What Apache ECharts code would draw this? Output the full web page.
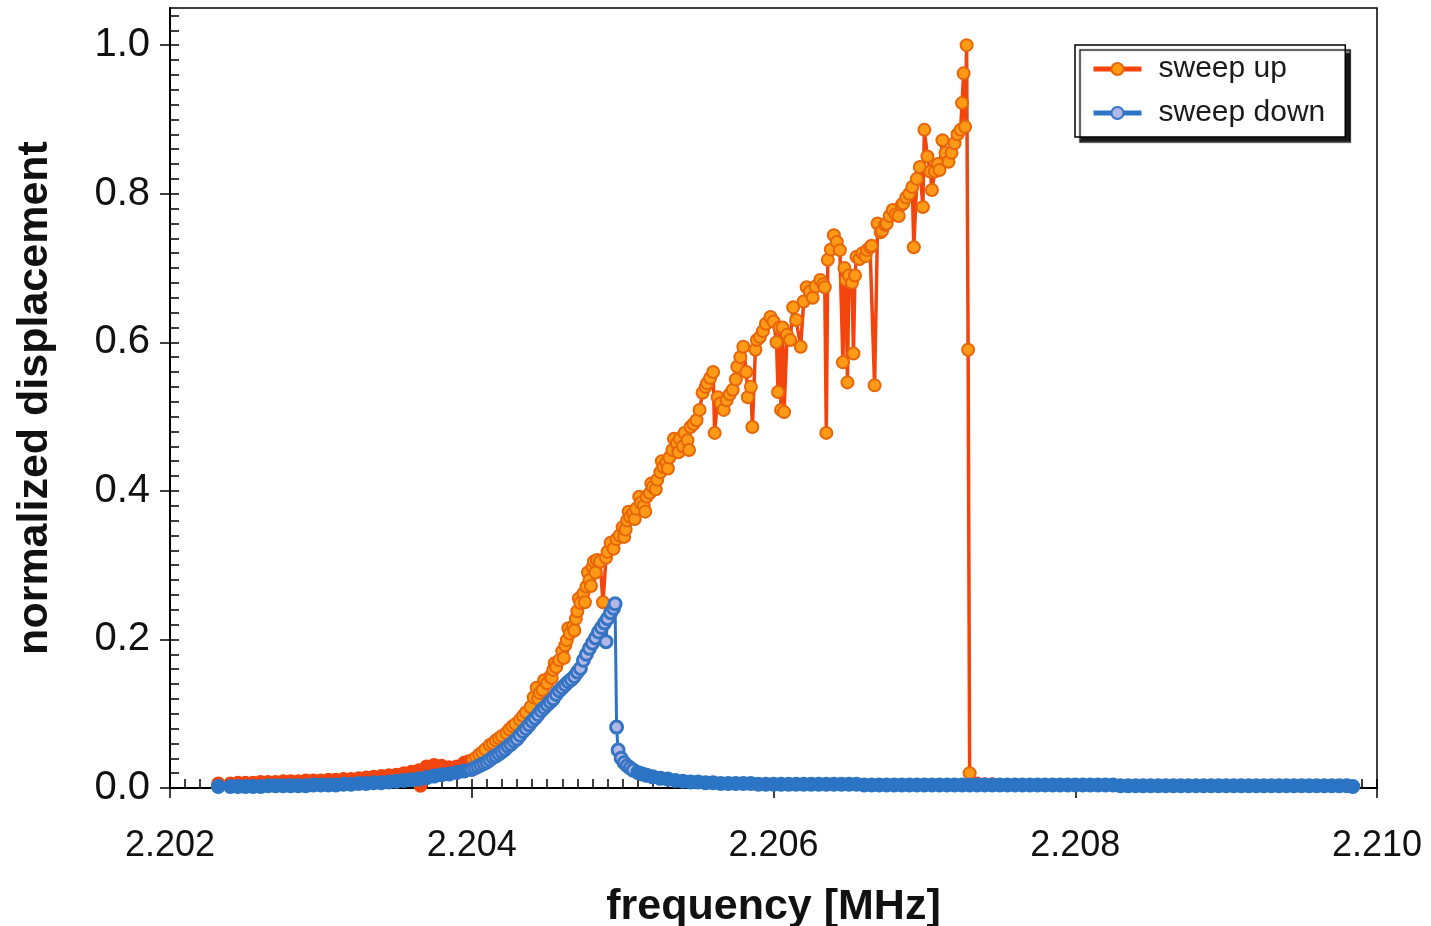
<!DOCTYPE html>
<html><head><meta charset="utf-8">
<script src="https://cdn.jsdelivr.net/npm/echarts@6/dist/echarts.min.js"></script>
<style>html,body{margin:0;padding:0;background:#fff}#c{width:1431px;height:926px}</style>
</head><body><div id="c"></div>
<script>
// ---- tick labels ----
const xTicks = [2.202, 2.204, 2.206, 2.208, 2.210];
const yTicks = [0.0, 0.2, 0.4, 0.6, 0.8, 1.0];
const xMinorStep = 0.0001;
const yMinorStep = 0.02;
const seriesNames = ['sweep up', 'sweep down'];

// ---- sweep up: [frequency MHz, normalized displacement] ----
const sweepUp = [
[2.20232,0.006],[2.20240,0.006],[2.20245,0.007],[2.20250,0.007],[2.20255,0.007],[2.20260,0.008],[2.20265,0.008],[2.20270,0.008],
[2.20275,0.009],[2.20280,0.009],[2.20285,0.009],[2.20290,0.010],[2.20295,0.010],[2.20300,0.010],[2.20305,0.011],[2.20310,0.011],
[2.20315,0.012],[2.20320,0.012],[2.20325,0.013],[2.20330,0.014],[2.20335,0.015],[2.20340,0.016],[2.20345,0.017],[2.20350,0.018],
[2.20355,0.020],[2.20360,0.022],[2.20365,0.024],[2.20366,0.003],[2.20370,0.029],[2.20375,0.031],[2.20380,0.030],[2.20385,0.028],
[2.20390,0.029],[2.20395,0.034],[2.20398,0.036],
[2.20401,0.038],[2.20403,0.041],[2.20405,0.045],[2.20407,0.048],[2.20409,0.052],[2.20412,0.058],[2.20414,0.060],[2.20416,0.064],
[2.20418,0.067],[2.20420,0.070],[2.20423,0.074],[2.20425,0.079],[2.20427,0.083],[2.20429,0.086],[2.20432,0.092],[2.20434,0.097],
[2.20436,0.102],[2.20439,0.109],[2.20441,0.122],[2.20443,0.135],[2.20444,0.120],[2.20445,0.128],[2.20447,0.132],[2.20448,0.145],
[2.20450,0.141],[2.20452,0.150],[2.20453,0.148],[2.20454,0.159],[2.20455,0.168],[2.20456,0.163],[2.20458,0.172],
[2.20460,0.184],[2.20461,0.175],[2.20462,0.192],[2.20463,0.199],[2.20464,0.215],[2.20465,0.208],[2.20467,0.217],[2.20468,0.212],
[2.20469,0.228],[2.20470,0.238],[2.20471,0.255],[2.20472,0.249],[2.20474,0.262],[2.20475,0.250],[2.20476,0.271],[2.20477,0.290],
[2.20478,0.280],[2.20479,0.272],[2.20480,0.297],[2.20481,0.305],[2.20482,0.290],[2.20483,0.307],[2.20485,0.305],[2.20487,0.250],
[2.20489,0.310],[2.20490,0.318],[2.20492,0.330],[2.20494,0.322],[2.20496,0.335],[2.20498,0.340],[2.20500,0.351],[2.20501,0.338],
[2.20502,0.348],[2.20503,0.360],[2.20504,0.372],[2.20505,0.365],[2.20507,0.370],[2.20508,0.362],[2.20509,0.376],[2.20511,0.392],
[2.20512,0.384],[2.20514,0.380],[2.20515,0.372],[2.20516,0.392],[2.20518,0.397],[2.20519,0.410],[2.20520,0.405],[2.20522,0.402],
[2.20523,0.415],[2.20525,0.425],[2.20526,0.440],[2.20527,0.432],[2.20529,0.438],[2.20530,0.430],[2.20531,0.445],[2.20533,0.455],
[2.20534,0.470],[2.20536,0.464],[2.20537,0.452],[2.20538,0.470],[2.20540,0.460],[2.20541,0.478],[2.20543,0.468],[2.20544,0.455],
[2.20545,0.486],[2.20547,0.490],
[2.20549,0.495],[2.20551,0.509],[2.20553,0.532],[2.20555,0.540],[2.20556,0.545],[2.20558,0.552],[2.20560,0.560],[2.20561,0.478],
[2.20563,0.526],[2.20565,0.518],[2.20567,0.509],[2.20569,0.522],[2.20571,0.530],[2.20573,0.536],[2.20575,0.550],[2.20576,0.567],
[2.20578,0.580],[2.20580,0.594],[2.20582,0.560],[2.20583,0.526],[2.20585,0.540],[2.20586,0.486],[2.20588,0.590],[2.20589,0.603],
[2.20591,0.607],[2.20593,0.615],[2.20595,0.625],[2.20598,0.634],[2.20600,0.628],[2.20602,0.600],[2.20603,0.533],[2.20604,0.620],
[2.20605,0.509],[2.20606,0.620],[2.20607,0.506],[2.20609,0.610],[2.20611,0.603],[2.20613,0.647],[2.20615,0.630],[2.20618,0.594],
[2.20620,0.655],[2.20622,0.674],[2.20624,0.668],[2.20626,0.660],[2.20628,0.675],[2.20631,0.684],[2.20633,0.678],[2.20634,0.674],
[2.20635,0.478],[2.20636,0.711],[2.20638,0.725],[2.20640,0.744],[2.20642,0.735],[2.20644,0.724],[2.20646,0.573],[2.20647,0.700],
[2.20648,0.684],[2.20649,0.546],[2.20650,0.690],[2.20652,0.680],[2.20653,0.585],[2.20654,0.690],[2.20655,0.715],[2.20657,0.712],
[2.20659,0.720],[2.20661,0.716],[2.20662,0.724],[2.20664,0.728],[2.20665,0.730],[2.20667,0.542],[2.20669,0.760],[2.20671,0.748],
[2.20672,0.750],[2.20674,0.758],[2.20675,0.760],[2.20677,0.770],[2.20679,0.778],[2.20681,0.772],[2.20683,0.770],[2.20685,0.785],
[2.20686,0.787],[2.20688,0.795],[2.20690,0.800],[2.20692,0.809],[2.20693,0.728],[2.20695,0.820],[2.20697,0.836],[2.20699,0.782],
[2.20700,0.886],[2.20702,0.850],[2.20704,0.830],[2.20705,0.805],[2.20707,0.830],[2.20709,0.840],[2.20710,0.832],[2.20712,0.872],
[2.20714,0.855],[2.20716,0.843],[2.20718,0.855],[2.20720,0.868],[2.20722,0.880],[2.20724,0.886],[2.20725,0.922],[2.20726,0.962],
[2.20727,0.890],[2.20728,1.000],[2.20729,0.590],[2.20730,0.020],
[2.20735,0.006],[2.20740,0.005],[2.20745,0.005],[2.20750,0.004],[2.20755,0.004]
];

// ---- sweep down: [frequency MHz, normalized displacement] ----
const sweepDown = [
[2.20232,0.002],[2.20240,0.002],[2.20245,0.002],[2.20250,0.002],[2.20255,0.002],[2.20260,0.002],[2.20265,0.003],[2.20270,0.003],
[2.20275,0.003],[2.20280,0.003],[2.20285,0.003],[2.20290,0.003],[2.20295,0.004],[2.20300,0.004],[2.20305,0.004],[2.20310,0.004],
[2.20315,0.005],[2.20320,0.005],[2.20325,0.006],[2.20330,0.006],[2.20335,0.007],[2.20340,0.007],[2.20345,0.008],[2.20350,0.009],
[2.20355,0.010],[2.20360,0.011],[2.20365,0.012],[2.20370,0.014],[2.20375,0.016],[2.20380,0.018],[2.20385,0.019],[2.20390,0.021],
[2.20395,0.023],
[2.20400,0.025],[2.20402,0.027],[2.20404,0.029],[2.20406,0.031],[2.20408,0.033],[2.20410,0.035],[2.20412,0.038],[2.20414,0.041],
[2.20416,0.043],[2.20418,0.046],[2.20420,0.049],[2.20422,0.052],[2.20424,0.056],[2.20426,0.059],[2.20428,0.063],[2.20430,0.066],
[2.20432,0.071],[2.20434,0.076],[2.20436,0.080],[2.20438,0.085],[2.20440,0.090],[2.20442,0.094],[2.20444,0.099],[2.20446,0.104],
[2.20448,0.108],[2.20450,0.112],[2.20452,0.116],[2.20454,0.120],[2.20456,0.126],[2.20458,0.131],[2.20460,0.135],[2.20462,0.139],
[2.20464,0.143],[2.20466,0.146],[2.20468,0.150],[2.20470,0.156],[2.20472,0.161],[2.20474,0.172],[2.20476,0.180],[2.20478,0.188],
[2.20480,0.195],[2.20482,0.202],[2.20484,0.210],[2.20486,0.216],[2.20488,0.222],[2.20489,0.197],[2.20490,0.228],[2.20492,0.236],
[2.20494,0.242],[2.20495,0.248],[2.20496,0.082],[2.20497,0.051],
[2.20499,0.040],[2.20501,0.034],[2.20503,0.030],[2.20505,0.027],[2.20507,0.024],[2.20510,0.021],[2.20513,0.019],[2.20516,0.017],
[2.20520,0.015],[2.20525,0.013],[2.20530,0.012],[2.20535,0.010],[2.20540,0.009],[2.20545,0.008],[2.20550,0.008],[2.20555,0.007],
[2.20560,0.007],[2.20565,0.006],[2.20570,0.006],
[2.20575,0.006],[2.20580,0.006],[2.20585,0.006],[2.20590,0.005],[2.20595,0.005],[2.20600,0.005],[2.20605,0.005],[2.20610,0.005],
[2.20615,0.005],[2.20620,0.005],[2.20625,0.005],[2.20630,0.005],[2.20635,0.005],[2.20640,0.005],[2.20645,0.005],[2.20650,0.005],
[2.20655,0.005],[2.20660,0.004],[2.20665,0.004],[2.20670,0.004],[2.20675,0.004],[2.20680,0.004],[2.20685,0.004],[2.20690,0.004],
[2.20695,0.004],[2.20700,0.004],[2.20705,0.004],[2.20710,0.004],[2.20715,0.004],[2.20720,0.004],[2.20725,0.004],[2.20730,0.004],
[2.20735,0.004],[2.20740,0.004],[2.20745,0.004],[2.20750,0.004],[2.20755,0.004],[2.20760,0.004],[2.20765,0.004],[2.20770,0.004],
[2.20775,0.004],[2.20780,0.004],[2.20785,0.004],[2.20790,0.004],[2.20795,0.004],[2.20800,0.004],[2.20805,0.004],[2.20810,0.004],
[2.20815,0.004],[2.20820,0.004],[2.20825,0.004],[2.20830,0.003],[2.20835,0.003],[2.20840,0.003],[2.20845,0.003],[2.20850,0.003],
[2.20855,0.003],[2.20860,0.003],[2.20865,0.003],[2.20870,0.003],[2.20875,0.003],[2.20880,0.003],[2.20885,0.003],[2.20890,0.003],
[2.20895,0.003],[2.20900,0.003],[2.20905,0.003],[2.20910,0.003],[2.20915,0.003],[2.20920,0.003],[2.20925,0.003],[2.20930,0.003],
[2.20935,0.003],[2.20940,0.003],[2.20945,0.003],[2.20950,0.003],[2.20955,0.003],[2.20960,0.003],[2.20965,0.003],[2.20970,0.003],
[2.20975,0.003],[2.20980,0.003],[2.20984,0.002]
];

// frequency ranges where the sweep is so dense that markers merge into a solid band
const denseUp = [[2.2020, 2.20399], [2.20731, 2.2080]];
const denseDown = [[2.2020, 2.20396], [2.20510, 2.2100]];

const UP_LINE = '#F2450E', UP_FILL = '#FF9A17', UP_EDGE = '#E8660A';
const DN_LINE = '#2C74C4', DN_FILL = '#B3B7E8', DN_EDGE = '#3674C4';
const FONT = 'Liberation Sans, Arial, sans-serif';

function inRanges(f, ranges) { return ranges.some(r => f >= r[0] && f <= r[1]); }
function build(arr, ranges, solid) {
  return arr.map(p => inRanges(p[0], ranges)
    ? { value: p, itemStyle: { color: solid, borderColor: solid } }
    : { value: p });
}
const xMinor = [], yMinor = [];
for (let i = 0; i <= 80; i++) xMinor.push(+(xTicks[0] + i * xMinorStep).toFixed(4));
for (let i = 0; i <= 52; i++) yMinor.push(+(yTicks[0] + i * yMinorStep).toFixed(2));

const chart = echarts.init(document.getElementById('c'), null, { renderer: 'canvas' });
const tickLine = { color: '#000', width: 1.5 };
chart.setOption({
  animation: false,
  backgroundColor: '#fff',
  grid: { left: 170, right: 54, top: 8, bottom: 138, outerBoundsMode: 'none', containLabel: false,
          show: true, borderColor: '#000', borderWidth: 1.5, backgroundColor: 'transparent' },
  legend: {
    data: seriesNames, orient: 'vertical', left: 1075, top: 45,
    padding: [9, 20, 9, 16], itemWidth: 48, itemHeight: 15, itemGap: 14,
    backgroundColor: '#fff', borderColor: '#000', borderWidth: 1.5, borderRadius: 0,
    shadowColor: 'rgba(0,0,0,0.9)', shadowBlur: 1, shadowOffsetX: 5, shadowOffsetY: 5,
    lineStyle: { width: 5 },
    textStyle: { fontSize: 30, color: '#1a1a1a', fontFamily: FONT, padding: [0, 0, 0, 12] }
  },
  xAxis: [
    { type: 'value', min: xTicks[0], max: xTicks[xTicks.length - 1], position: 'bottom',
      axisLine: { show: true, onZero: false, lineStyle: { color: '#000', width: 2 } },
      axisTick: { show: true, inside: false, length: 10, customValues: xTicks, lineStyle: tickLine },
      axisLabel: { customValues: xTicks, formatter: v => v.toFixed(3), fontSize: 36, color: '#111', margin: 40, fontFamily: FONT },
      splitLine: { show: false },
      name: 'frequency [MHz]', nameLocation: 'middle', nameGap: 98,
      nameTextStyle: { fontWeight: 'bold', fontSize: 43, color: '#111', fontFamily: FONT } },
    { type: 'value', min: xTicks[0], max: xTicks[xTicks.length - 1], position: 'bottom',
      axisLine: { show: false, onZero: false }, axisLabel: { show: false }, splitLine: { show: false },
      axisTick: { show: true, inside: true, length: 9, customValues: xMinor, lineStyle: tickLine } }
  ],
  yAxis: [
    { type: 'value', min: 0, max: 1.05, position: 'left',
      axisLine: { show: true, onZero: false, lineStyle: { color: '#000', width: 2 } },
      axisTick: { show: true, inside: false, length: 10, customValues: yTicks, lineStyle: tickLine },
      axisLabel: { customValues: yTicks, formatter: v => v.toFixed(1), fontSize: 40, color: '#111', margin: 20, fontFamily: FONT },
      splitLine: { show: false },
      name: 'normalized displacement', nameLocation: 'middle', nameGap: 113,
      nameTextStyle: { fontWeight: 'bold', fontSize: 43, color: '#111', fontFamily: FONT } },
    { type: 'value', min: 0, max: 1.05, position: 'left',
      axisLine: { show: false, onZero: false }, axisLabel: { show: false }, splitLine: { show: false },
      axisTick: { show: true, inside: true, length: 9, customValues: yMinor, lineStyle: tickLine } }
  ],
  series: [
    { name: seriesNames[0], type: 'line', xAxisIndex: 0, yAxisIndex: 0,
      data: build(sweepUp, denseUp, UP_LINE),
      symbol: 'circle', symbolSize: 12, showSymbol: true, showAllSymbol: true,
      lineStyle: { color: UP_LINE, width: 3.5 },
      itemStyle: { color: UP_FILL, borderColor: UP_EDGE, borderWidth: 2 },
      emphasis: { disabled: true }, z: 2 },
    { name: seriesNames[1], type: 'line', xAxisIndex: 0, yAxisIndex: 0,
      data: build(sweepDown, denseDown, DN_LINE),
      symbol: 'circle', symbolSize: 12, showSymbol: true, showAllSymbol: true,
      lineStyle: { color: DN_LINE, width: 3 },
      itemStyle: { color: DN_FILL, borderColor: DN_EDGE, borderWidth: 3 },
      emphasis: { disabled: true }, z: 3 }
  ]
});
</script></body></html>
